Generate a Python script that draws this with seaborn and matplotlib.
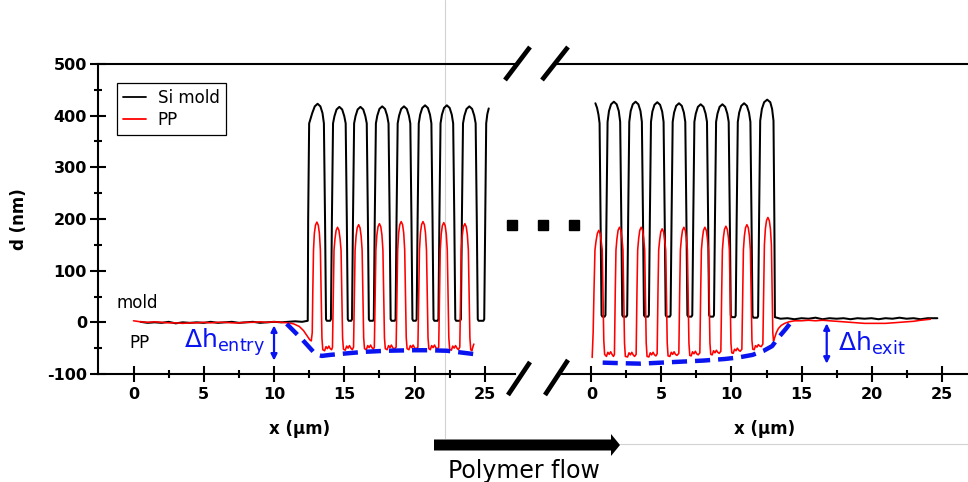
import matplotlib
matplotlib.use("Agg")
import matplotlib.pyplot as plt
import pandas as pd
import seaborn as sns
from matplotlib.lines import Line2D
from matplotlib.patches import FancyArrow

# ---------------------------------------------------------------------------
# Height profiles d (nm) versus x (um)
# Entry side (left panel) and exit side (right panel) of the patterned area.
# ---------------------------------------------------------------------------

# Si mold profile, entry side
entry_mold = [
    (0.5, 1), (1.0, -1), (1.5, 0), (2.0, -1), (2.5, 1), (3.0, -2), (3.5, 0), (4.0, -1),
    (4.5, 0), (5.0, -1), (5.5, 1), (6.0, -1), (6.5, 0), (7.0, 1), (7.5, -1), (8.0, 0),
    (8.5, 1), (9.0, -1), (9.5, 0), (10.0, 1), (10.5, 0), (11.0, 1), (11.5, 2), (12.0, 1),
    (12.4, 3),
    (12.43, 200), (12.5, 385), (12.72, 405), (12.9, 418), (13.1, 423), (13.3, 418),
    (13.45, 405), (13.55, 385), (13.63, 200), (13.7, 6), (13.76, 3), (13.99, 3),
    (14.05, 6), (14.12, 200), (14.2, 385), (14.3, 399), (14.45, 412), (14.65, 417),
    (14.85, 412), (15.0, 399), (15.1, 385), (15.18, 200), (15.25, 6), (15.31, 3), (15.49, 3),
    (15.55, 6), (15.62, 200), (15.7, 385), (15.8, 399), (15.95, 412), (16.15, 417),
    (16.35, 412), (16.5, 399), (16.6, 385), (16.68, 200), (16.75, 6), (16.81, 3), (17.04, 3),
    (17.1, 6), (17.17, 200), (17.25, 385), (17.35, 400), (17.5, 413), (17.7, 418),
    (17.9, 413), (18.05, 400), (18.15, 385), (18.23, 200), (18.3, 6), (18.36, 3), (18.59, 3),
    (18.65, 6), (18.72, 200), (18.8, 385), (18.9, 400), (19.05, 413), (19.25, 418),
    (19.45, 413), (19.6, 400), (19.7, 385), (19.78, 200), (19.85, 6), (19.91, 3), (20.09, 3),
    (20.15, 6), (20.22, 200), (20.3, 385), (20.4, 402), (20.55, 415), (20.75, 420),
    (20.95, 415), (21.1, 402), (21.2, 385), (21.28, 200), (21.35, 6), (21.41, 3), (21.64, 3),
    (21.7, 6), (21.77, 200), (21.85, 385), (21.95, 402), (22.1, 415), (22.3, 420),
    (22.5, 415), (22.65, 402), (22.75, 385), (22.83, 200), (22.9, 6), (22.96, 3), (23.24, 3),
    (23.3, 6), (23.37, 200), (23.45, 385), (23.55, 400), (23.7, 413), (23.9, 418),
    (24.1, 413), (24.25, 400), (24.35, 385), (24.43, 200), (24.5, 6), (24.56, 3), (24.9, 3),
    (24.96, 6), (25.03, 200), (25.1, 385), (25.18, 403), (25.28, 414),
]

# PP replica profile, entry side
entry_pp = [
    (0.0, 3), (0.5, 1), (1.0, 0), (1.5, 1), (2.0, 0), (2.5, -1), (3.0, -1), (3.5, -2),
    (4.0, -1), (4.5, -1), (5.0, 0), (5.5, -1), (6.0, 0), (6.5, 0), (7.0, -1), (7.5, -1),
    (8.0, 0), (8.5, 0), (9.0, 1), (9.5, 0), (10.0, 1), (10.5, 0), (11.0, -1), (11.4, -3),
    (11.8, -8), (12.1, -16), (12.35, -26), (12.55, -34), (12.65, -36),
    (12.72, -20), (12.76, 60), (12.81, 140), (12.87, 172), (12.95, 188), (13.05, 194),
    (13.15, 188), (13.23, 172), (13.3, 140), (13.35, 60), (13.41, -30), (13.47, -53),
    (13.6, -55), (13.7, -47), (13.8, -51), (13.9, -46), (14.0, -51), (14.1, -53),
    (14.16, -48), (14.22, 60), (14.27, 140), (14.34, 162), (14.42, 178), (14.52, 184),
    (14.62, 178), (14.7, 162), (14.77, 140), (14.82, 60), (14.88, -30), (14.94, -52),
    (15.07, -54), (15.17, -46), (15.27, -50), (15.37, -45), (15.47, -50), (15.57, -53),
    (15.66, -48), (15.72, 60), (15.77, 140), (15.84, 167), (15.92, 183), (16.02, 189),
    (16.12, 183), (16.2, 167), (16.27, 140), (16.32, 60), (16.38, -30), (16.44, -51),
    (16.57, -53), (16.67, -45), (16.77, -49), (16.87, -44), (16.97, -49), (17.07, -52),
    (17.14, -48), (17.2, 60), (17.25, 140), (17.32, 169), (17.4, 185), (17.5, 191),
    (17.6, 185), (17.68, 169), (17.75, 140), (17.8, 60), (17.86, -30), (17.92, -51),
    (18.05, -53), (18.15, -45), (18.25, -49), (18.35, -44), (18.45, -49), (18.55, -52),
    (18.69, -48), (18.75, 60), (18.8, 140), (18.87, 173), (18.95, 189), (19.05, 195),
    (19.15, 189), (19.23, 173), (19.3, 140), (19.35, 60), (19.41, -30), (19.47, -51),
    (19.6, -53), (19.7, -45), (19.8, -49), (19.9, -44), (20.0, -49), (20.1, -52),
    (20.24, -48), (20.3, 60), (20.35, 140), (20.42, 173), (20.5, 189), (20.6, 195),
    (20.7, 189), (20.78, 173), (20.85, 140), (20.9, 60), (20.96, -30), (21.02, -51),
    (21.12, -53), (21.22, -45), (21.32, -49), (21.42, -44), (21.52, -49), (21.62, -52),
    (21.72, -48), (21.78, 60), (21.83, 140), (21.9, 171), (21.98, 187), (22.08, 193),
    (22.18, 187), (22.26, 171), (22.33, 140), (22.38, 60), (22.44, -30), (22.5, -52),
    (22.62, -54), (22.72, -46), (22.82, -50), (22.92, -45), (23.02, -50), (23.12, -53),
    (23.22, -48), (23.28, 60), (23.33, 140), (23.4, 169), (23.48, 185), (23.58, 191),
    (23.68, 185), (23.76, 169), (23.83, 140), (23.88, 60), (23.94, -30), (24.0, -53),
    (24.08, -55), (24.15, -48), (24.22, -42),
]

# Si mold profile, exit side
exit_mold = [
    (0.28, 424), (0.4, 415), (0.5, 402), (0.58, 385), (0.65, 200), (0.72, 14), (0.78, 11), (0.94, 11),
    (1.0, 14), (1.07, 200), (1.15, 388), (1.25, 409), (1.4, 422), (1.6, 427),
    (1.8, 422), (1.95, 409), (2.05, 388), (2.13, 200), (2.2, 14), (2.26, 11), (2.49, 11),
    (2.55, 14), (2.62, 200), (2.7, 388), (2.8, 409), (2.95, 422), (3.15, 427),
    (3.35, 422), (3.5, 409), (3.6, 388), (3.68, 200), (3.75, 14), (3.81, 11), (4.04, 11),
    (4.1, 14), (4.17, 200), (4.25, 388), (4.35, 408), (4.5, 421), (4.7, 426),
    (4.9, 421), (5.05, 408), (5.15, 388), (5.23, 200), (5.3, 14), (5.36, 11), (5.59, 11),
    (5.65, 14), (5.72, 200), (5.8, 388), (5.9, 406), (6.05, 419), (6.25, 424),
    (6.45, 419), (6.6, 406), (6.7, 388), (6.78, 200), (6.85, 14), (6.91, 11), (7.14, 11),
    (7.2, 14), (7.27, 200), (7.35, 388), (7.45, 404), (7.6, 417), (7.8, 422),
    (8.0, 417), (8.15, 404), (8.25, 388), (8.33, 200), (8.4, 14), (8.46, 11), (8.69, 11),
    (8.75, 14), (8.82, 200), (8.9, 388), (9.0, 404), (9.15, 417), (9.35, 422),
    (9.55, 417), (9.7, 404), (9.8, 388), (9.88, 200), (9.95, 14), (10.01, 10), (10.24, 10),
    (10.3, 13), (10.37, 200), (10.45, 388), (10.55, 406), (10.7, 419), (10.9, 424),
    (11.1, 419), (11.25, 406), (11.35, 388), (11.43, 200), (11.5, 13), (11.56, 9), (11.84, 9),
    (11.9, 12), (11.97, 200), (12.05, 390), (12.17, 413), (12.33, 426), (12.55, 431),
    (12.77, 426), (12.9, 413), (13.0, 390), (13.06, 200), (13.1, 10),
    (13.5, 7), (14.0, 8), (14.5, 6), (15.0, 8), (15.5, 7), (16.0, 9), (16.5, 6), (17.0, 8),
    (17.5, 7), (18.0, 8), (18.5, 6), (19.0, 8), (19.5, 7), (20.0, 8), (20.5, 6), (21.0, 8),
    (21.5, 7), (22.0, 9), (22.5, 7), (23.0, 8), (23.5, 6), (24.0, 8), (24.7, 8),
]

# PP replica profile, exit side
exit_pp = [
    (0.05, -68), (0.12, -20), (0.18, 60), (0.25, 140), (0.32, 156), (0.42, 172), (0.52, 178),
    (0.62, 172), (0.7, 156), (0.77, 140), (0.82, 60), (0.88, -35), (0.94, -62),
    (1.07, -66), (1.17, -58), (1.27, -62), (1.37, -57), (1.47, -62), (1.57, -66),
    (1.64, -62), (1.7, 60), (1.75, 140), (1.82, 162), (1.9, 178), (2.0, 184),
    (2.1, 178), (2.18, 162), (2.25, 140), (2.3, 60), (2.36, -40), (2.42, -66),
    (2.58, -67), (2.68, -59), (2.78, -63), (2.88, -58), (2.98, -63), (3.08, -66),
    (3.19, -62), (3.25, 60), (3.3, 140), (3.37, 162), (3.45, 178), (3.55, 184),
    (3.65, 178), (3.73, 162), (3.8, 140), (3.85, 60), (3.91, -40), (3.97, -66),
    (4.1, -67), (4.2, -59), (4.3, -63), (4.4, -58), (4.5, -63), (4.6, -65),
    (4.69, -61), (4.75, 60), (4.8, 140), (4.87, 159), (4.95, 175), (5.05, 181),
    (5.15, 175), (5.23, 159), (5.3, 140), (5.35, 60), (5.41, -40), (5.47, -65),
    (5.6, -66), (5.7, -58), (5.8, -62), (5.9, -57), (6.0, -62), (6.1, -64),
    (6.24, -60), (6.3, 60), (6.35, 140), (6.42, 162), (6.5, 178), (6.6, 184),
    (6.7, 178), (6.78, 162), (6.85, 140), (6.9, 60), (6.96, -40), (7.02, -64),
    (7.12, -65), (7.22, -57), (7.32, -61), (7.42, -56), (7.52, -61), (7.62, -63),
    (7.74, -59), (7.8, 60), (7.85, 140), (7.92, 162), (8.0, 178), (8.1, 184),
    (8.2, 178), (8.28, 162), (8.35, 140), (8.4, 60), (8.46, -40), (8.52, -62),
    (8.62, -63), (8.72, -55), (8.82, -59), (8.92, -54), (9.02, -58), (9.12, -60),
    (9.24, -56), (9.3, 60), (9.35, 140), (9.42, 164), (9.5, 180), (9.6, 186),
    (9.7, 180), (9.78, 164), (9.85, 140), (9.9, 60), (9.96, -40), (10.02, -59),
    (10.12, -60), (10.22, -52), (10.32, -55), (10.42, -50), (10.52, -54), (10.62, -56),
    (10.74, -52), (10.8, 60), (10.85, 140), (10.92, 167), (11.0, 183), (11.1, 189),
    (11.2, 183), (11.28, 167), (11.35, 140), (11.4, 60), (11.46, -35), (11.52, -52),
    (11.62, -53), (11.72, -45), (11.82, -48), (11.92, -43), (12.02, -46), (12.12, -47),
    (12.24, -42), (12.3, 60), (12.35, 150), (12.42, 181), (12.5, 197), (12.6, 203),
    (12.7, 197), (12.78, 181), (12.85, 150), (12.9, 60), (12.95, -20), (13.0, -36),
    (13.08, -30), (13.2, -20), (13.35, -12), (13.55, -6), (13.8, -2), (14.1, 1), (14.5, 3),
    (15.0, 3), (15.5, 4), (16.0, 3), (16.5, 4), (17.0, 3), (17.5, 2), (18.0, 1), (18.5, 0),
    (19.0, -1), (19.5, -2), (20.0, -2), (20.5, -2), (21.0, -2), (21.5, -1), (22.0, 0),
    (22.5, 1), (23.0, 2), (23.5, 4), (24.2, 6),
]

# Envelope of the PP residual layer (dashed guides)
entry_envelope = [
    (10.9, -3), (12.0, -33), (12.8, -57), (13.1, -63), (13.4, -65), (14.0, -63),
    (15.2, -60), (16.5, -57), (18.0, -55), (19.9, -54), (21.0, -54), (22.3, -55),
    (23.5, -59), (24.7, -63),
]
exit_envelope = [
    (0.8, -78), (2.0, -79), (3.5, -80), (5.0, -78), (6.5, -76), (8.0, -74), (9.5, -71),
    (10.5, -68), (11.5, -63), (12.3, -55), (12.9, -46), (13.4, -28), (13.9, -12), (14.3, 2),
]

# Height-difference markers: (x, top, bottom)
dh_entry = (10.0, -6, -74)
dh_exit = (16.8, -2, -80)

x_major = [0, 5, 10, 15, 20, 25]
x_minor = [2.5, 7.5, 12.5, 17.5, 22.5]
y_major = [-100, 0, 100, 200, 300, 400, 500]
y_minor = [-50, 50, 150, 250, 350, 450]

MOLD_COLOR = "black"
PP_COLOR = "#ff0000"
GUIDE_COLOR = "#0a14f0"

sns.set_style("ticks")
plt.rcParams.update({
    "font.family": ["DejaVu Sans"],
    "axes.unicode_minus": False,
    "mathtext.default": "regular",
    "text.color": "black",
    "axes.labelcolor": "black",
    "axes.edgecolor": "black",
    "xtick.color": "black",
    "ytick.color": "black",
})


def frame(points):
    return pd.DataFrame(points, columns=["x", "d"])


fig = plt.figure(figsize=(9.68, 4.82), dpi=100)
W, H = 968.0, 482.0
axL = fig.add_axes([98 / W, 108 / H, 417 / W, 310 / H])
axR = fig.add_axes([558 / W, 108 / H, 410 / W, 310 / H])

# light slide guide lines behind everything
fig.add_artist(Line2D([445 / W, 445 / W], [1.0, 1 - 438 / H], transform=fig.transFigure,
                      color="#d2d2d2", lw=0.8, zorder=-5))
fig.add_artist(Line2D([620 / W, 1.0], [1 - 444 / H, 1 - 444 / H], transform=fig.transFigure,
                      color="#d2d2d2", lw=0.8, zorder=-5))

panels = [
    (axL, entry_mold, entry_pp, entry_envelope, (-2.527, 27.15)),
    (axR, exit_mold, exit_pp, exit_envelope, (-2.39, 26.89)),
]
for ax, mold, pp, env, xlim in panels:
    sns.lineplot(data=frame(mold), x="x", y="d", ax=ax, color=MOLD_COLOR, lw=1.45,
                 sort=False, estimator=None)
    sns.lineplot(data=frame(pp), x="x", y="d", ax=ax, color=PP_COLOR, lw=1.15,
                 sort=False, estimator=None)
    sns.lineplot(data=frame(env), x="x", y="d", ax=ax, color=GUIDE_COLOR, lw=3.2,
                 sort=False, estimator=None, dashes=False, linestyle=(0, (3.4, 1.8)))
    ax.set_xlim(*xlim)
    ax.set_ylim(-100, 500)
    ax.patch.set_visible(False)
    ax.spines["right"].set_visible(False)
    for side in ("top", "bottom", "left"):
        ax.spines[side].set_linewidth(1.5)
        ax.spines[side].set_color("black")
    ax.set_xticks(x_major, [str(v) for v in x_major], fontweight="bold", fontsize=11.5)
    ax.set_xticks(x_minor, minor=True)
    ax.tick_params(axis="x", which="major", direction="inout", length=11, width=1.5, pad=4,
                   top=False, bottom=True, colors="black")
    ax.tick_params(axis="x", which="minor", direction="inout", length=5.5, width=1.5,
                   top=False, bottom=True, colors="black")
    ax.set_xlabel("x (\u00b5m)", fontsize=12, fontweight="bold", color="black")
    ax.set_ylabel("")

axL.xaxis.set_label_coords(0.484, -0.148)
axR.xaxis.set_label_coords(0.505, -0.148)

axL.set_yticks(y_major, [str(v) for v in y_major], fontweight="bold", fontsize=11.5)
axL.set_yticks(y_minor, minor=True)
axL.tick_params(axis="y", which="major", direction="inout", length=11, width=1.5, pad=2.5,
                colors="black")
axL.tick_params(axis="y", which="minor", direction="inout", length=5.5, width=1.5,
                colors="black")
axL.set_ylabel("d (nm)", fontsize=12, fontweight="bold", color="black")
axL.yaxis.set_label_coords(-0.168, 0.5)

axR.spines["left"].set_visible(False)
axR.tick_params(axis="y", which="both", left=False, labelleft=False)

# legend
handles = [Line2D([], [], color=MOLD_COLOR, lw=1.3), Line2D([], [], color=PP_COLOR, lw=1.3)]
leg = axL.legend(handles, ["Si mold", "PP"], loc="upper left",
                 bbox_to_anchor=(117 / W, 1 - 83 / H), bbox_transform=fig.transFigure,
                 borderaxespad=0, fontsize=12, frameon=True, fancybox=False,
                 edgecolor="black", framealpha=1, handlelength=1.4, handletextpad=0.7,
                 borderpad=0.35, labelspacing=0.25)
leg.get_frame().set_linewidth(0.9)
for t in leg.get_texts():
    t.set_color("black")

# surface labels
axL.text(0.28, 27, "mold", fontsize=12, ha="center", va="baseline", color="black")
axL.text(0.43, -50, "PP", fontsize=12, ha="center", va="baseline", color="black")

# height-difference arrows and labels
for ax, (xa, top, bot), label, lx, ly in [
    (axL, dh_entry, r"$\Delta h_{entry}$", 3.6, -50),
    (axR, dh_exit, r"$\Delta h_{exit}$", 17.6, -55),
]:
    ax.annotate("", xy=(xa, bot), xytext=(xa, top),
                arrowprops=dict(arrowstyle="<|-|>", color=GUIDE_COLOR, lw=1.6,
                                mutation_scale=9, shrinkA=0, shrinkB=0))
    ax.text(lx, ly, label, color=GUIDE_COLOR, fontsize=18, ha="left", va="baseline")

# axis break marks
for (x0, y0), (x1, y1) in [((505, 80), (530, 47)), ((542, 80), (568, 47)),
                           ((508, 395), (530, 362)), ((545, 395), (568, 360))]:
    fig.add_artist(Line2D([x0 / W, x1 / W], [1 - y0 / H, 1 - y1 / H],
                          transform=fig.transFigure, color="black", lw=3.4,
                          solid_capstyle="butt"))

# ellipsis between the two sections
fig.add_artist(Line2D([512 / W, 543 / W, 574 / W], [1 - 225 / H] * 3,
                      transform=fig.transFigure, ls="none", marker="s",
                      markersize=7.6, color="black"))

# polymer flow direction
fig.add_artist(FancyArrow(4.34, 0.37, 1.86, 0.0, width=0.11, head_width=0.22,
                          head_length=0.09, length_includes_head=True,
                          transform=fig.dpi_scale_trans, color="black", lw=0))
fig.text(524 / W, 1 - 478 / H, "Polymer flow", fontsize=17, ha="center", va="baseline",
         color="black")

fig.savefig("out.png", dpi=100)
